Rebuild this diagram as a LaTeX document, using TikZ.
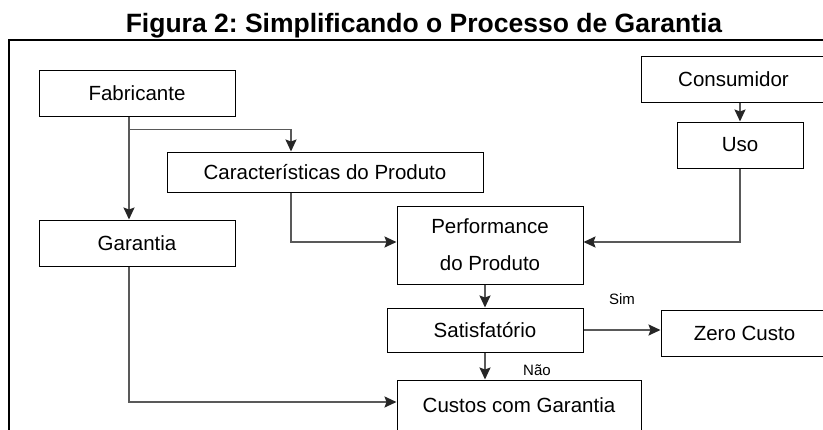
\documentclass[tikz,border=0pt]{standalone}
\usepackage{fontspec}
\setmainfont{Liberation Sans}
\usetikzlibrary{calc, arrows.meta}
\frenchspacing
\tikzstyle{boxnode}=[
    draw=black,     % thin black border
    rectangle,      % the shape of the node is a rectangle
    fill=white,
    line width=1pt,
    inner sep=0pt,
    minimum height=46pt,
    font=\fontsize{20.5}{37}\selectfont,
    align=center]
\tikzstyle{flow}=[
    -{Stealth[length=12pt, width=11pt, inset=2pt, color=black!85]},
    draw=black!65,  % grey connector
    line width=1.8pt]
\tikzstyle{lbl}=[
    inner sep=0pt,
    font=\fontsize{15}{18}\selectfont]

\begin{document}
\begin{tikzpicture}[x=1pt, y=-1pt]
        \clip (0,0) rectangle (823,429);
        % Title and frame
        \node[anchor=base, font=\bfseries\fontsize{26.5}{30}\selectfont] (title) at (424,32) {Figura 2: Simplificando o Processo de Garantia};
        \draw[line width=1.5pt] (9,440) -- (9,40) -- (840,40);

        % Draw the vertices.
        \node[boxnode, minimum width=196pt] (fab) at (137,93) {Fabricante};
        \node[boxnode, minimum width=196pt, below of=fab, node distance=150pt] (gar) {Garantia};
        \node[boxnode, minimum width=316pt, minimum height=40pt] (car) at (325,172) {Características do Produto};
        \node[boxnode, minimum width=186pt, minimum height=78pt] (perf) at (490,245) {Performance\\do Produto};
        \node[boxnode, minimum width=196pt, minimum height=44pt, below of=perf, node distance=85pt, xshift=-5pt] (sat) {Satisfatório};
        \node[boxnode, minimum width=244pt, minimum height=50pt] (cus) at (519,405) {Custos com Garantia};
        \node[boxnode, minimum width=185pt] (con) at (733.5,79) {Consumidor};
        \node[boxnode, minimum width=126pt, below of=con, node distance=66pt, xshift=6.5pt] (uso) {Uso};
        \node[boxnode, minimum width=167pt, right of=sat, node distance=259.5pt, yshift=-3pt] (zero) {Zero Custo};

        % Connect vertices with edges
        \draw[flow] ($(fab.south)+(-8,0)$) -- ($(gar.north)+(-8,0)$);
        \draw[flow] ($(fab.south)+(-8,13)$) -| ($(car.north)+(-34,0)$);
        \draw[flow] ($(car.south)+(-34,0)$) |- ($(perf.west)+(0,-3)$);
        \draw[flow] (uso.north |- con.south) -- (uso.north);
        \draw[flow] (uso.south) |- ($(perf.east)+(0,-3)$);
        \draw[flow] (sat.north |- perf.south) -- (sat.north);
        \draw[flow] (sat.east) -- (sat.east -| zero.west) node[lbl, midway, yshift=31pt] {Sim};
        \draw[flow] (sat.south) -- (sat.south |- cus.north) node[lbl, midway, xshift=52pt, yshift=-4pt] {Não};
        \draw[flow] ($(gar.south)+(-8,0)$) |- ($(cus.west)+(0,-3)$);
\end{tikzpicture}
\end{document}
